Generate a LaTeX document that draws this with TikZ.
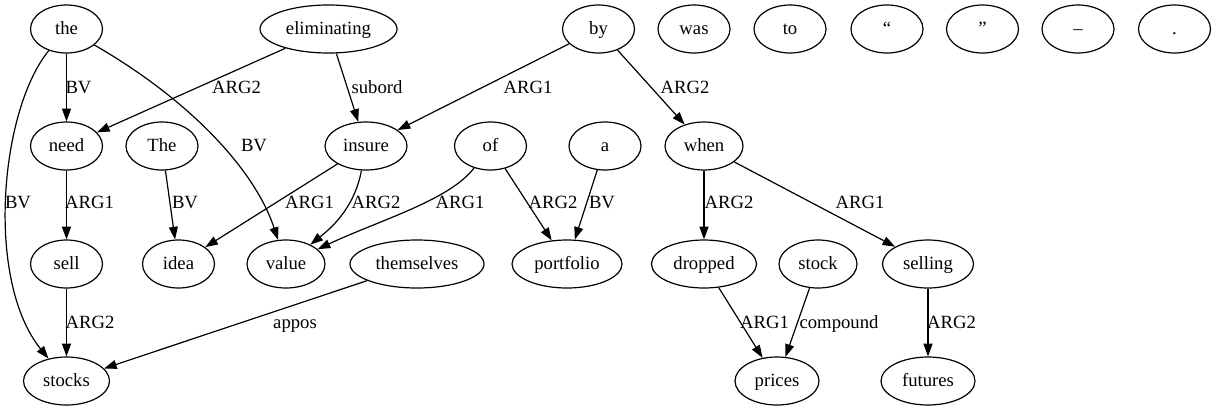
\documentclass[tikz,border=0pt]{standalone}
\usepackage{fontspec}
\setmainfont{Liberation Serif}
\usetikzlibrary{shapes.geometric,arrows.meta}
\tikzset{
  word/.style={draw, ellipse, line width=0.9pt, minimum height=36pt, minimum width=#1,
    inner sep=0pt, text height=10.5pt, text depth=3pt, font=\fontsize{14}{16}\selectfont},
  word/.default=54pt,
  dep/.style={-{Triangle[length=9.5pt,width=6.7pt]}, line width=0.9pt},
  lab/.style={inner sep=0pt, text height=10.5pt, text depth=3pt, font=\fontsize{14}{16}\selectfont}
}
\begin{document}
\begin{tikzpicture}[x=0.75pt,y=-0.75pt]
\useasboundingbox (0,0) rectangle (1216,411);
% row 1
\node[word] (the) at (66.5,29) {the};
\node[word=102.75pt] (elim) at (328.5,29) {eliminating};
\node[word] (by) at (598.5,29) {by};
\node[word] (was) at (694,29) {was};
\node[word] (to) at (790,29) {to};
\node[word] (lq) at (887,29) {“};
\node[word] (rq) at (982.5,29) {”};
\node[word] (dash) at (1078,29) {–};
\node[word] (dot) at (1174.5,29) {.};
% row 2
\node[word] (need) at (66.5,146) {need};
\node[word] (The) at (162,146) {The};
\node[word=61.5pt] (insure) at (366,146) {insure};
\node[word] (of) at (490.5,146) {of};
\node[word] (a) at (605,146) {a};
\node[word=58.5pt] (when) at (704,146) {when};
% row 3
\node[word] (sell) at (66.5,264) {sell};
\node[word] (idea) at (178.5,264) {idea};
\node[word=58.5pt] (value) at (286,264) {value};
\node[word=100.5pt] (them) at (417,264) {themselves};
\node[word=82.5pt] (port) at (567,264) {portfolio};
\node[word=78.75pt] (dropped) at (704,264) {dropped};
\node[word=58.5pt] (stock) at (818,264) {stock};
\node[word=68.25pt] (selling) at (928,264) {selling};
% row 4
\node[word=64.5pt] (stocks) at (66.5,381) {stocks};
\node[word=63pt] (prices) at (777,381) {prices};
\node[word=70.5pt] (futures) at (928,381) {futures};

% edges
\draw[dep] (the) -- (need);
\draw[dep] (the) .. controls (0,110) and (-15,280) .. (stocks);
\draw[dep] (the) .. controls (190,100) and (255,170) .. (value);
\draw[dep] (elim) -- (need);
\draw[dep] (elim) -- (insure);
\draw[dep] (by) -- (insure);
\draw[dep] (by) -- (when);
\draw[dep] (need) -- (sell);
\draw[dep] (The) -- (idea);
\draw[dep] (insure) -- (idea);
\draw[dep] (insure) .. controls (355,205) and (335,225) .. (value);
\draw[dep] (of) .. controls (450,200) and (380,220) .. (value);
\draw[dep] (of) -- (port);
\draw[dep] (a) -- (port);
\draw[dep] (when) -- (dropped);
\draw[dep] (when) -- (selling);
\draw[dep] (sell) -- (stocks);
\draw[dep] (them) -- (stocks);
\draw[dep] (dropped) -- (prices);
\draw[dep] (stock) -- (prices);
\draw[dep] (selling) -- (futures);

% labels
\node[lab] (l1) at (78.5,88) {BV};
\node[lab] (l2) at (18,203) {BV};
\node[lab] (l3) at (254,146) {BV};
\node[lab] (l4) at (236.5,88) {ARG2};
\node[lab] (l5) at (377,88) {subord};
\node[lab] (l6) at (528,88) {ARG1};
\node[lab] (l7) at (685,88) {ARG2};
\node[lab] (l8) at (89.5,203) {ARG1};
\node[lab] (l9) at (185,203) {BV};
\node[lab] (l10) at (309.5,203) {ARG1};
\node[lab] (l11) at (376,203) {ARG2};
\node[lab] (l12) at (460,203) {ARG1};
\node[lab] (l13) at (553,203) {ARG2};
\node[lab] (l14) at (602,203) {BV};
\node[lab] (l15) at (729,203) {ARG2};
\node[lab] (l16) at (860,203) {ARG1};
\node[lab] (l17) at (90,323) {ARG2};
\node[lab] (l18) at (295,323) {appos};
\node[lab] (l19) at (764.5,323) {ARG1};
\node[lab] (l20) at (839,323) {compound};
\node[lab] (l21) at (951.5,323) {ARG2};
\end{tikzpicture}
\end{document}
